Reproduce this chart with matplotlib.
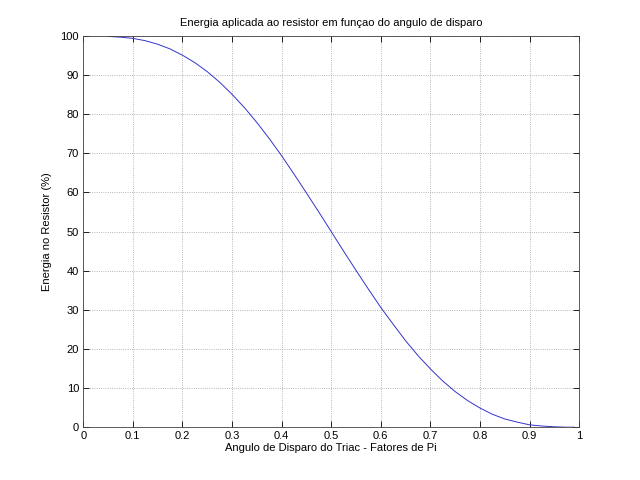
import matplotlib
matplotlib.use('Agg')
import matplotlib.pyplot as plt

plt.rcParams['font.family'] = ['Liberation Sans', 'DejaVu Sans']

# angle de disparo (fraction of pi) and energy in the resistor (%)
angulo = [0.05, 0.075, 0.1, 0.125, 0.15, 0.175, 0.2, 0.225, 0.25, 0.275,
          0.3, 0.325, 0.35, 0.375, 0.4, 0.425, 0.45, 0.475, 0.5, 0.525,
          0.55, 0.575, 0.6, 0.625, 0.65, 0.675, 0.7, 0.725, 0.75, 0.775,
          0.8, 0.825, 0.85, 0.875, 0.9, 0.925, 0.95, 0.975, 0.99]
energia = [99.9, 99.7, 99.4, 98.8, 97.9, 96.7, 95.1, 93.2, 90.9, 88.2,
           85.1, 81.7, 77.9, 73.8, 69.4, 64.7, 59.9, 55.0, 50.0, 45.0,
           40.1, 35.3, 30.6, 26.3, 22.1, 18.3, 14.9, 11.8, 9.1, 6.8,
           4.9, 3.3, 2.1, 1.3, 0.6, 0.3, 0.1, 0.0, 0.0]

xticks = [0, 0.1, 0.2, 0.3, 0.4, 0.5, 0.6, 0.7, 0.8, 0.9, 1]
xticklabels = ['0', '0.1', '0.2', '0.3', '0.4', '0.5', '0.6', '0.7', '0.8', '0.9', '1']
yticks = [0, 10, 20, 30, 40, 50, 60, 70, 80, 90, 100]

fig = plt.figure(figsize=(6.4, 4.8), dpi=100)
ax = fig.add_axes([0.13, 0.11, 0.775, 0.815])

ax.plot(angulo, energia, color='#3333cc', linewidth=0.7)

ax.set_xlim(0, 1)
ax.set_ylim(0, 100)
ax.set_xticks(xticks)
ax.set_xticklabels(xticklabels)
ax.set_yticks(yticks)
ax.tick_params(direction='in', top=True, right=True, labelsize=8, length=4, width=0.6, pad=3)
ax.grid(True, linestyle=':', color='#a0a0a0', linewidth=0.6)
for s in ax.spines.values():
    s.set_linewidth(0.6)
    s.set_color('#404040')

ax.set_title('Energia aplicada ao resistor em funçao do angulo de disparo', fontsize=8, pad=7)
ax.set_xlabel('Angulo de Disparo do Triac - Fatores de Pi', fontsize=8, labelpad=1)
ax.set_ylabel('Energia no Resistor (%)', fontsize=8, labelpad=6)

fig.savefig('out.png', dpi=100)
